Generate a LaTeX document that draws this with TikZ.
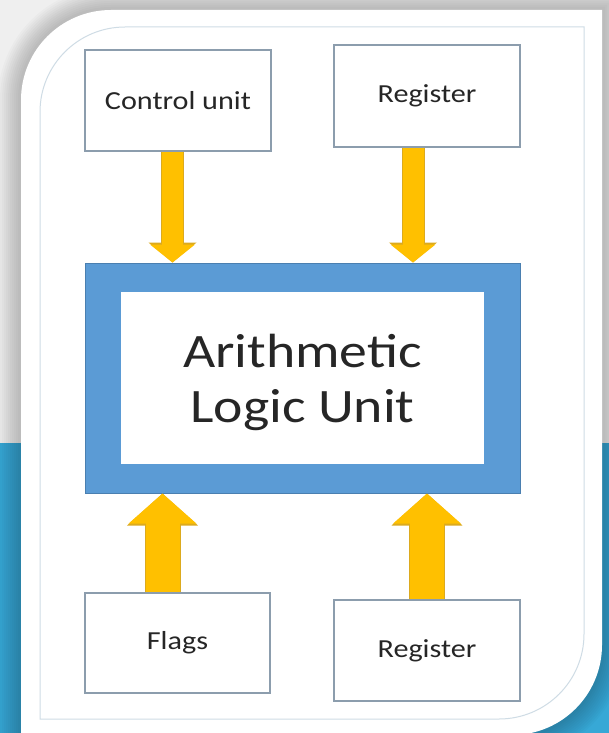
\documentclass[tikz,border=0pt]{standalone}
\usepackage{fontspec}
\setmainfont{Carlito}[FakeStretch=1.16]
\usetikzlibrary{arrows.meta,calc}
\definecolor{bgblue}{HTML}{37A8D6}
\definecolor{bggray}{HTML}{EFEFEF}
\definecolor{alublue}{HTML}{5B9BD5}
\definecolor{aluedge}{HTML}{4A7FB0}
\definecolor{amber}{HTML}{FFC000}
\definecolor{amberedge}{HTML}{DCAA1E}
\definecolor{boxline}{HTML}{8C9DAD}
\definecolor{frameline}{HTML}{CFDCE5}
\definecolor{txt}{HTML}{262626}

\begin{document}
\begin{tikzpicture}
[x=1pt,y=-1pt,
blk/.style={draw=boxline,line width=1.2pt,fill=white,text=txt,inner sep=0pt,font=\fontsize{26}{30}\selectfont},
feeddown/.style={line width=21pt,draw=amber,-{Triangle[width=44pt,length=18pt]}},
feeddownedge/.style={line width=23pt,draw=amberedge,-{Triangle[width=47pt,length=20pt]}},
feedup/.style={line width=34pt,draw=amber,-{Triangle[width=66pt,length=30pt]}},
feedupedge/.style={line width=36pt,draw=amberedge,-{Triangle[width=69pt,length=32pt]}}]
\useasboundingbox (0,0) rectangle (609,733);
\clip (0,0) rectangle (609,733);
\fill[bggray] (0,0) rectangle (609,443);
\fill[bgblue] (0,443) rectangle (609,733);
\foreach \w in {46,42,...,6}
  \draw[line width=\w pt,draw=black,opacity=.018] (21,760) -- (21,100) arc[start angle=180,end angle=270,radius=90] -- (602,10) -- (602,645) arc[start angle=0,end angle=90,radius=90] -- (512,760);
\fill[white] (21,735) -- (21,100) arc[start angle=180,end angle=270,radius=90] -- (602,10) -- (602,645) arc[start angle=0,end angle=90,radius=90] -- cycle;
\draw[frameline,line width=1pt] (40,719) -- (40,112) arc[start angle=180,end angle=270,radius=85] -- (584,27) -- (584,634) arc[start angle=0,end angle=90,radius=85] -- cycle;

\node[blk,minimum width=186pt,minimum height=101pt] (cu) at (178,100.5) {Control unit};
\node[blk,minimum width=186pt,minimum height=102pt] (regtop) at (427,96) {Register};
\node[fill=alublue,draw=aluedge,line width=1pt,minimum width=435pt,minimum height=230pt] (alu) at (302.5,378) {};
\node[fill=white,inner sep=0pt,minimum width=363pt,minimum height=172pt] (aluin) at (alu.center) {};
\node[align=center,text=txt,font=\fontsize{48}{55}\selectfont] (alutxt) at ([yshift=-4pt]aluin.center) {Arithmetic\\Logic Unit};
\node[blk,minimum width=185pt,minimum height=100pt] (flags) at (177.5,643) {Flags};
\node[blk,minimum width=186pt,minimum height=101pt] (regbot) at (427,650.5) {Register};

\draw[feeddownedge] ([xshift=-5.5pt]cu.south) -- ([xshift=-5.5pt]cu.south |- alu.north);
\draw[feeddown] ([xshift=-5.5pt]cu.south) -- ([xshift=-5.5pt]cu.south |- alu.north);
\draw[feeddownedge] ([xshift=-14pt]regtop.south) -- ([xshift=-14pt]regtop.south |- alu.north);
\draw[feeddown] ([xshift=-14pt]regtop.south) -- ([xshift=-14pt]regtop.south |- alu.north);
\draw[feedupedge] ([xshift=-15pt]flags.north) -- ([xshift=-15pt]flags.north |- alu.south);
\draw[feedup] ([xshift=-15pt]flags.north) -- ([xshift=-15pt]flags.north |- alu.south);
\draw[feedupedge] (regbot.north) -- (regbot.north |- alu.south);
\draw[feedup] (regbot.north) -- (regbot.north |- alu.south);
\end{tikzpicture}
\end{document}
